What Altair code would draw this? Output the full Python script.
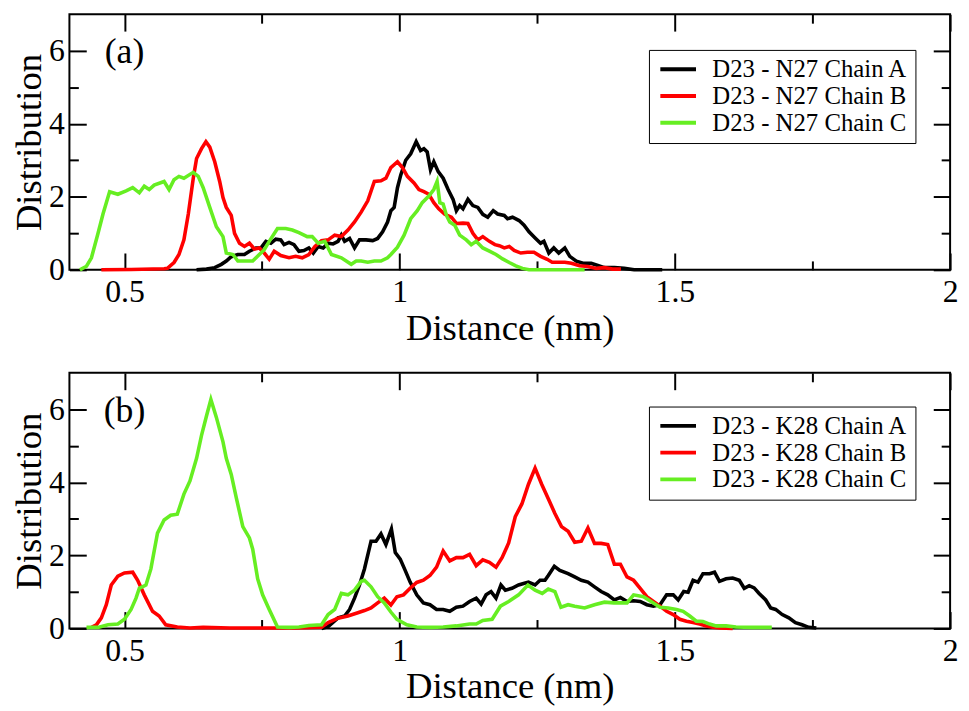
import altair as alt
import pandas as pd

FONT = "Liberation Serif"

# ---------------- data: panel (a) D23 - N27 ----------------
a_names = ["D23 - N27 Chain A", "D23 - N27 Chain B", "D23 - N27 Chain C"]

a_A_x = [0.631, 0.649, 0.664, 0.676, 0.685, 0.694, 0.706, 0.718, 0.727, 0.739, 0.748, 0.757, 0.766, 0.775,
         0.784, 0.790, 0.799, 0.808, 0.817, 0.826, 0.835, 0.843, 0.852, 0.861, 0.870, 0.879, 0.888, 0.894,
         0.900, 0.909, 0.918, 0.927, 0.939, 0.951, 0.960, 0.969, 0.978, 0.984, 0.990, 0.996, 1.002, 1.011,
         1.020, 1.030, 1.038, 1.044, 1.050, 1.056, 1.062, 1.070, 1.079, 1.088, 1.097, 1.103, 1.109, 1.115,
         1.124, 1.133, 1.142, 1.151, 1.160, 1.170, 1.178, 1.190, 1.196, 1.205, 1.217, 1.226, 1.235, 1.247,
         1.256, 1.262, 1.271, 1.280, 1.289, 1.300, 1.309, 1.321, 1.333, 1.348, 1.360, 1.372, 1.390, 1.408,
         1.426, 1.477]
a_A_y = [0, 0.02, 0.06, 0.15, 0.24, 0.36, 0.42, 0.42, 0.51, 0.6, 0.6, 0.78, 0.73, 0.84,
         0.82, 0.69, 0.75, 0.69, 0.51, 0.53, 0.6, 0.46, 0.64, 0.6, 0.73, 0.71, 0.78, 0.95,
         0.78, 0.86, 0.6, 0.82, 0.82, 0.8, 0.86, 1.04, 1.31, 1.62, 1.71, 2.25, 2.6, 3.0,
         3.18, 3.51, 3.27, 3.32, 3.23, 2.74, 2.96, 2.69, 2.51, 2.2, 1.93, 1.62, 1.76, 1.67,
         1.93, 1.76, 1.71, 1.52, 1.44, 1.62, 1.53, 1.49, 1.4, 1.44, 1.35, 1.22, 1.04, 0.86,
         0.73, 0.78, 0.46, 0.6, 0.46, 0.6, 0.37, 0.24, 0.18, 0.18, 0.12, 0.06, 0.06, 0.04,
         0, 0]

a_B_x = [0.458, 0.512, 0.572, 0.578, 0.590, 0.599, 0.608, 0.616, 0.625, 0.631, 0.640, 0.648, 0.655, 0.664,
         0.673, 0.679, 0.685, 0.694, 0.700, 0.709, 0.718, 0.727, 0.736, 0.745, 0.754, 0.763, 0.772, 0.784,
         0.799, 0.811, 0.823, 0.835, 0.846, 0.858, 0.870, 0.882, 0.894, 0.906, 0.918, 0.930, 0.942, 0.954,
         0.966, 0.975, 0.984, 0.996, 1.005, 1.014, 1.026, 1.035, 1.044, 1.053, 1.062, 1.071, 1.082, 1.094,
         1.103, 1.115, 1.124, 1.133, 1.142, 1.151, 1.163, 1.173, 1.181, 1.190, 1.199, 1.208, 1.220, 1.232,
         1.244, 1.256, 1.268, 1.277, 1.289, 1.300, 1.312, 1.327, 1.342, 1.357, 1.372, 1.387, 1.402]
a_B_y = [0, 0.01, 0.03, 0.04, 0.2, 0.42, 0.82, 1.53, 2.51, 3.05, 3.32, 3.51, 3.36, 2.96,
         2.42, 1.98, 1.71, 1.49, 1.0, 0.73, 0.64, 0.73, 0.57, 0.6, 0.46, 0.29, 0.51, 0.39,
         0.33, 0.37, 0.33, 0.42, 0.64, 0.8, 0.82, 0.95, 0.91, 1.09, 1.31, 1.58, 1.89, 2.42,
         2.44, 2.51, 2.8, 2.96, 2.8, 2.56, 2.38, 2.2, 2.14, 2.07, 1.84, 1.67, 1.52, 1.44,
         1.27, 1.28, 1.27, 1.0, 0.82, 0.91, 0.78, 0.69, 0.66, 0.6, 0.64, 0.53, 0.46, 0.48,
         0.48, 0.37, 0.29, 0.21, 0.21, 0.21, 0.18, 0.11, 0.09, 0.04, 0.06, 0.02, 0.02]

a_C_x = [0.419, 0.431, 0.440, 0.452, 0.461, 0.473, 0.488, 0.503, 0.515, 0.527, 0.536, 0.545, 0.554, 0.572,
         0.581, 0.590, 0.599, 0.608, 0.625, 0.634, 0.643, 0.655, 0.667, 0.679, 0.685, 0.697, 0.706, 0.718,
         0.733, 0.745, 0.754, 0.763, 0.778, 0.793, 0.805, 0.817, 0.832, 0.841, 0.852, 0.864, 0.876, 0.894,
         0.912, 0.921, 0.930, 0.942, 0.954, 0.966, 0.978, 0.984, 0.996, 1.008, 1.020, 1.032, 1.041, 1.053,
         1.062, 1.068, 1.073, 1.079, 1.085, 1.091, 1.100, 1.109, 1.121, 1.130, 1.139, 1.151, 1.163, 1.175,
         1.187, 1.199, 1.211, 1.223, 1.235, 1.283, 1.336]
a_C_y = [0, 0.1, 0.33, 1.0, 1.53, 2.14, 2.07, 2.16, 2.25, 2.11, 2.29, 2.2, 2.32, 2.42,
         2.2, 2.47, 2.56, 2.51, 2.67, 2.56, 2.25, 1.71, 1.18, 0.91, 0.46, 0.42, 0.24, 0.24,
         0.24, 0.42, 0.55, 0.78, 1.13, 1.13, 1.09, 1.02, 0.91, 0.91, 0.73, 0.78, 0.42, 0.33,
         0.15, 0.24, 0.24, 0.21, 0.24, 0.24, 0.33, 0.42, 0.62, 0.95, 1.4, 1.62, 1.84, 2.02,
         2.2, 2.42, 1.84, 1.8, 1.49, 1.31, 1.22, 0.95, 0.82, 0.69, 0.78, 0.6, 0.51, 0.42,
         0.30, 0.2, 0.11, 0.04, 0, 0, 0]

# ---------------- data: panel (b) D23 - K28 ----------------
b_names = ["D23 - K28 Chain A", "D23 - K28 Chain B", "D23 - K28 Chain C"]

b_A_x = [0.858, 0.870, 0.888, 0.900, 0.909, 0.918, 0.927, 0.936, 0.948, 0.957, 0.966, 0.975, 0.985, 0.992,
         1.001, 1.010, 1.019, 1.031, 1.043, 1.055, 1.067, 1.079, 1.091, 1.103, 1.115, 1.127, 1.139, 1.148,
         1.157, 1.166, 1.175, 1.184, 1.192, 1.204, 1.216, 1.225, 1.234, 1.246, 1.255, 1.264, 1.270, 1.281,
         1.291, 1.306, 1.318, 1.330, 1.342, 1.354, 1.366, 1.378, 1.390, 1.401, 1.413, 1.425, 1.437, 1.449,
         1.461, 1.473, 1.485, 1.497, 1.506, 1.516, 1.524, 1.533, 1.542, 1.551, 1.563, 1.572, 1.581, 1.593,
         1.605, 1.617, 1.626, 1.635, 1.644, 1.653, 1.665, 1.674, 1.683, 1.695, 1.707, 1.719, 1.731, 1.743,
         1.757]
b_A_y = [0, 0.05, 0.29, 0.34, 0.52, 0.83, 1.19, 1.63, 2.39, 2.39, 2.59, 2.3, 2.72, 2.08,
         1.9, 1.59, 1.27, 0.92, 0.7, 0.65, 0.52, 0.52, 0.47, 0.58, 0.61, 0.74, 0.83, 0.67,
         0.92, 1.01, 0.83, 1.19, 1.05, 1.1, 1.19, 1.23, 1.27, 1.19, 1.32, 1.32, 1.45, 1.7,
         1.59, 1.5, 1.41, 1.32, 1.27, 1.14, 1.01, 0.92, 0.78, 0.85, 0.74, 0.76, 0.74, 0.65,
         0.61, 0.65, 0.92, 0.92, 0.78, 1.01, 0.99, 1.32, 1.27, 1.5, 1.5, 1.54, 1.29, 1.36,
         1.38, 1.32, 1.1, 1.17, 1.11, 0.96, 0.78, 0.56, 0.52, 0.38, 0.29, 0.16, 0.1, 0.03,
         0.01]

b_B_x = [0.440, 0.449, 0.458, 0.467, 0.476, 0.488, 0.500, 0.515, 0.524, 0.536, 0.551, 0.563, 0.575, 0.596,
         0.619, 0.643, 0.691, 0.751, 0.811, 0.858, 0.870, 0.888, 0.906, 0.924, 0.936, 0.948, 0.960, 0.972,
         0.984, 0.995, 1.007, 1.019, 1.031, 1.043, 1.055, 1.067, 1.079, 1.091, 1.103, 1.115, 1.127, 1.139,
         1.151, 1.163, 1.175, 1.186, 1.198, 1.210, 1.222, 1.234, 1.246, 1.258, 1.270, 1.282, 1.294, 1.306,
         1.318, 1.330, 1.342, 1.354, 1.366, 1.378, 1.390, 1.401, 1.413, 1.425, 1.437, 1.449, 1.461, 1.473,
         1.485, 1.497, 1.509, 1.521, 1.533, 1.545, 1.557, 1.569, 1.581, 1.605]
b_B_y = [0.03, 0.1, 0.29, 0.65, 1.19, 1.43, 1.52, 1.54, 1.32, 0.92, 0.47, 0.34, 0.1, 0.04,
         0.01, 0.03, 0.01, 0.01, 0.01, 0.03, 0.16, 0.28, 0.34, 0.43, 0.49, 0.56, 0.7, 0.83,
         0.64, 0.87, 0.92, 1.1, 1.26, 1.32, 1.45, 1.68, 2.12, 1.85, 1.94, 1.94, 2.03, 1.72,
         1.88, 1.81, 1.68, 1.94, 2.34, 3.06, 3.41, 3.95, 4.39, 3.95, 3.55, 3.15, 2.79, 2.66,
         2.36, 2.39, 2.75, 2.33, 2.33, 2.3, 1.76, 1.76, 1.41, 1.32, 1.1, 0.87, 0.74, 0.61,
         0.47, 0.38, 0.25, 0.2, 0.16, 0.12, 0.07, 0.03, 0.01, 0]

b_C_x = [0.431, 0.452, 0.470, 0.488, 0.500, 0.512, 0.521, 0.527, 0.539, 0.548, 0.560, 0.572, 0.584, 0.596,
         0.608, 0.619, 0.631, 0.640, 0.649, 0.657, 0.667, 0.679, 0.685, 0.694, 0.703, 0.715, 0.727, 0.733,
         0.742, 0.751, 0.763, 0.778, 0.799, 0.817, 0.835, 0.858, 0.870, 0.882, 0.894, 0.906, 0.918, 0.930,
         0.936, 0.948, 0.960, 0.972, 0.984, 0.995, 1.013, 1.031, 1.055, 1.079, 1.103, 1.127, 1.139, 1.151,
         1.168, 1.183, 1.198, 1.216, 1.233, 1.246, 1.259, 1.270, 1.282, 1.293, 1.306, 1.318, 1.336, 1.354,
         1.372, 1.389, 1.413, 1.425, 1.443, 1.461, 1.473, 1.488, 1.503, 1.515, 1.527, 1.539, 1.551, 1.563,
         1.575, 1.593, 1.611, 1.640, 1.676]
b_C_y = [0.03, 0.03, 0.1, 0.12, 0.25, 0.52, 0.83, 1.1, 1.19, 1.63, 2.61, 2.97, 3.1, 3.13,
         3.68, 4.04, 4.66, 5.29, 5.82, 6.27, 5.78, 5.11, 4.66, 4.22, 3.59, 2.79, 2.48, 2.17,
         1.36, 0.92, 0.52, 0.04, 0.03, 0.04, 0.08, 0.1, 0.38, 0.52, 0.96, 0.92, 1.05, 1.29,
         1.32, 1.14, 0.87, 0.7, 0.45, 0.25, 0.1, 0.04, 0.03, 0.04, 0.07, 0.12, 0.12, 0.22,
         0.25, 0.61, 0.74, 0.92, 1.19, 1.05, 0.96, 1.08, 1.01, 0.58, 0.65, 0.61, 0.56, 0.65,
         0.72, 0.7, 0.7, 0.92, 0.87, 0.7, 0.58, 0.56, 0.52, 0.47, 0.34, 0.2, 0.19, 0.12,
         0.07, 0.07, 0.04, 0.03, 0.03]

colors = ["#000000", "#ff0000", "#66ee22"]
x_major = [0.5, 1.0, 1.5, 2.0]
x_minor = [0.75, 1.25, 1.75]
y_major = [0, 2, 4, 6]
y_minor = [1, 3, 5]

W, H = 889, 258


def frame(names, series):
    rows = []
    for name, (xs_, ys_) in zip(names, series):
        for xv, yv in zip(xs_, ys_):
            rows.append({"x": xv, "y": yv, "series": name})
    return pd.DataFrame(rows)


def make_axis(orient, values, size, labels=False, title=None):
    p = dict(orient=orient, values=values, tickSize=size, offset=-size, domain=False,
             grid=False, ticks=True, tickColor="black", tickWidth=2, labels=labels, title=title,
             minExtent=0)
    if labels:
        p.update(labelFont=FONT, labelFontSize=32, labelColor="black", format="~g",
                 labelFlush=False, labelOverlap=False,
                 labelPadding=7 if orient in ("bottom", "top") else 5)
    if title:
        p.update(titleFont=FONT, titleFontSize=37, titleFontWeight="normal", titleColor="black",
                 titlePadding=3 if orient in ("bottom", "top") else 0)
    return alt.Axis(**p)


xs = alt.Scale(domain=[0.4, 2.0], nice=False, zero=False)
ys = alt.Scale(domain=[0, 7], nice=False)


def panel(df, names, label, legend_y):
    base = alt.Chart(df)
    lines = base.mark_line(strokeWidth=3.6).encode(
        x=alt.X("x:Q", scale=xs, axis=make_axis("bottom", x_major, 17, True, "Distance (nm)")),
        y=alt.Y("y:Q", scale=ys, axis=make_axis("left", y_major, 17, True, "Distribution")),
        color=alt.Color("series:N", scale=alt.Scale(domain=names, range=colors),
                        legend=alt.Legend(title=None, orient="none", legendX=585, legendY=legend_y,
                                          labelFont=FONT, labelFontSize=25, labelColor="black",
                                          symbolType="M-1.8,0H1.8", symbolStrokeWidth=4, symbolSize=400,
                                          symbolOffset=10, labelOffset=22, padding=7, rowPadding=1,
                                          strokeColor="black", fillColor="white", cornerRadius=0,
                                          labelLimit=400)),
        order=alt.Order("x:Q"),
    )
    g1 = base.mark_point(opacity=0).encode(
        x=alt.X("x:Q", scale=xs, axis=make_axis("bottom", x_minor, 9)),
        y=alt.Y("y:Q", scale=ys, axis=make_axis("left", y_minor, 9)),
    )
    g2 = base.mark_point(opacity=0).encode(
        x=alt.X("x:Q", scale=xs, axis=make_axis("top", x_major, 17)),
        y=alt.Y("y:Q", scale=ys, axis=make_axis("right", y_major, 17)),
    )
    g3 = base.mark_point(opacity=0).encode(
        x=alt.X("x:Q", scale=xs, axis=make_axis("top", x_minor, 9)),
        y=alt.Y("y:Q", scale=ys, axis=make_axis("right", y_minor, 9)),
    )
    txt = alt.Chart(pd.DataFrame({"x": [0.5], "y": [5.95], "t": [label]})).mark_text(
        font=FONT, fontSize=36, color="black", baseline="middle", align="center"
    ).encode(
        x=alt.X("x:Q", scale=xs, axis=None),
        y=alt.Y("y:Q", scale=ys, axis=None),
        text="t:N",
    )
    return alt.layer(lines, g1, g2, g3, txt).resolve_axis(
        x="independent", y="independent"
    ).properties(width=W, height=H)


df_a = frame(a_names, [(a_A_x, a_A_y), (a_B_x, a_B_y), (a_C_x, a_C_y)])
df_b = frame(b_names, [(b_A_x, b_A_y), (b_B_x, b_B_y), (b_C_x, b_C_y)])

chart = alt.vconcat(
    panel(df_a, a_names, "(a)", 36),
    panel(df_b, b_names, "(b)", 34),
    spacing=24,
).resolve_scale(color="independent").properties(
    padding={"left": 2, "top": 1, "right": 2, "bottom": 0}
).configure_view(stroke="black", strokeWidth=2)

chart.save("out.html", embed_options={"renderer": "svg", "actions": False})
